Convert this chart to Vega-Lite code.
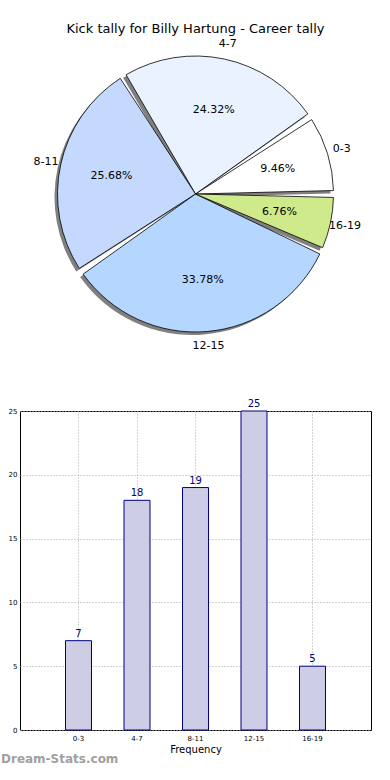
{
  "$schema": "https://vega.github.io/schema/vega-lite/v6.json",
  "padding": {"left": 0, "top": 23, "right": 0, "bottom": 0},
  "spacing": 46,
  "config": {"font": "DejaVu Sans", "view": {"stroke": null}},
  "datasets": {
    "kicks": [
      {"bin": "0-3", "low": 0, "count": 7, "pct": "9.46%"},
      {"bin": "4-7", "low": 4, "count": 18, "pct": "24.32%"},
      {"bin": "8-11", "low": 8, "count": 19, "pct": "25.68%"},
      {"bin": "12-15", "low": 12, "count": 25, "pct": "33.78%"},
      {"bin": "16-19", "low": 16, "count": 5, "pct": "6.76%"}
    ]
  },
  "vconcat": [
    {
      "title": {"text": "Kick tally for Billy Hartung - Career tally", "fontSize": 13, "fontWeight": "normal", "color": "#000", "offset": 2},
      "width": 351,
      "height": 300,
      "data": {"name": "kicks"},
      "encoding": {
        "theta": {"field": "count", "type": "quantitative", "stack": true, "scale": {"range": [1.5708, -4.7124]}},
        "order": {"field": "low", "type": "quantitative"},
        "detail": {"field": "bin", "type": "nominal"}
      },
      "layer": [
        {"mark": {"type": "arc", "outerRadius": 138, "padAngle": 0.05, "fill": "#808080", "x": {"expr": "351/2-3"}, "y": {"expr": "300/2+3"}}},
        {
          "mark": {"type": "arc", "outerRadius": 138, "padAngle": 0.05, "stroke": "#000", "strokeWidth": 0.8},
          "encoding": {
            "color": {"field": "bin", "type": "nominal", "legend": null,
              "scale": {"domain": ["0-3", "4-7", "8-11", "12-15", "16-19"], "range": ["#ffffff", "#eaf2ff", "#c5d9ff", "#b4d6ff", "#cfea8b"]}}
          }
        },
        {"mark": {"type": "text", "radius": 153, "fontSize": 11, "color": "#000"}, "encoding": {"text": {"field": "bin", "type": "nominal"}}},
        {"mark": {"type": "text", "radius": 86, "fontSize": 11, "color": "#000"}, "encoding": {"text": {"field": "pct", "type": "nominal"}}}
      ]
    },
    {
      "width": 351,
      "height": 319,
      "data": {"name": "kicks"},
      "view": {"stroke": "#000", "strokeWidth": 1},
      "title": {"text": "Dream-Stats.com", "orient": "bottom", "anchor": "start", "frame": "group", "dx": -19, "fontSize": 12, "fontWeight": "bold", "color": "#a0a0a0", "offset": 0},
      "encoding": {
        "x": {"field": "bin", "type": "ordinal", "sort": ["0-3", "4-7", "8-11", "12-15", "16-19"],
          "scale": {"paddingInner": 0.556, "paddingOuter": 0.778},
          "axis": {"title": "Frequency", "labelAngle": 0, "labelFontSize": 7, "labelColor": "#000", "labelPadding": 4, "titleFontSize": 10, "titleFontWeight": "normal", "titleColor": "#000", "titlePadding": 3,
            "grid": true, "gridDash": [1, 2], "gridColor": "#a8a8a8", "bandPosition": 0.5, "domain": false, "ticks": false}},
        "y": {"field": "count", "type": "quantitative", "scale": {"domain": [0, 25]},
          "axis": {"title": null, "values": [0, 5, 10, 15, 20, 25], "labelFontSize": 7, "labelColor": "#000", "labelPadding": 3, "grid": true, "gridDash": [1, 2], "gridColor": "#a8a8a8", "domain": false, "ticks": false}}
      },
      "layer": [
        {"mark": {"type": "bar", "fill": "#cdcde5", "stroke": "#000080", "strokeWidth": 1}},
        {"mark": {"type": "text", "dy": -2, "baseline": "bottom", "color": "#000080", "fontSize": 10}, "encoding": {"text": {"field": "count", "type": "quantitative"}}}
      ]
    }
  ]
}
